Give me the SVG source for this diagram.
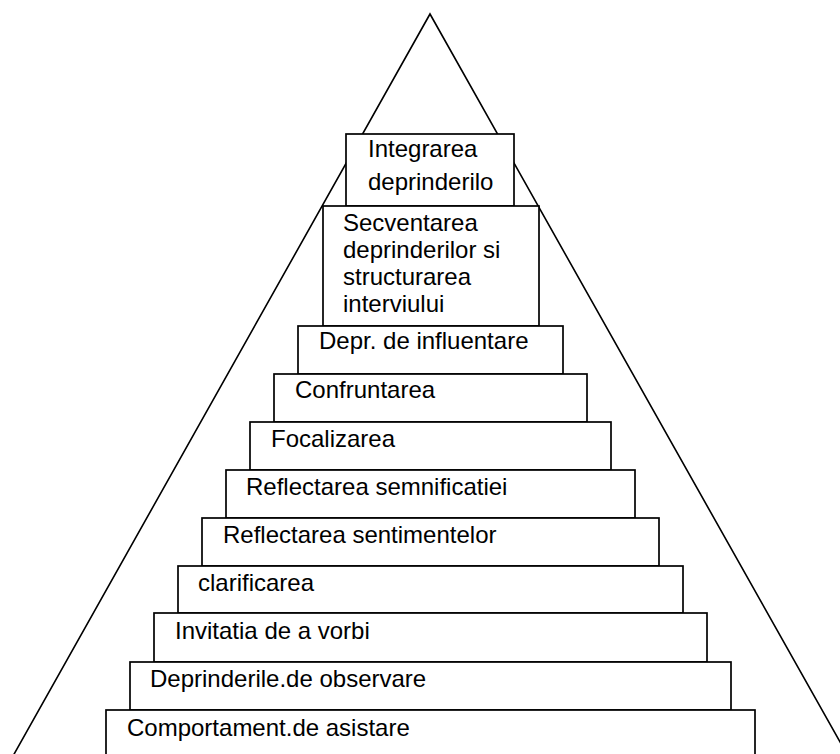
<svg xmlns="http://www.w3.org/2000/svg" width="840" height="754" viewBox="0 0 840 754">
<style>
.b{fill:#fff;stroke:#000;stroke-width:1.7}
.t{font-family:"Liberation Sans",Arial,sans-serif;font-size:24px;fill:#000}
.tri{fill:none;stroke:#000;stroke-width:1.6}
</style>
<rect width="840" height="754" fill="#fff"/>
<g id="pyramid"><polyline class="tri" points="13,756 430,14 848,756"/></g>
<g id="n1"><rect class="b" x="346" y="134" width="168" height="72"/><text class="t" x="368" y="157">Integrarea</text><text class="t" x="368" y="190">deprinderilo</text></g>
<g id="n2"><rect class="b" x="323" y="206" width="216" height="120"/><text class="t" x="343" y="231">Secventarea</text><text class="t" x="343" y="258">deprinderilor si</text><text class="t" x="343" y="285">structurarea</text><text class="t" x="343" y="312">interviului</text></g>
<g id="n3"><rect class="b" x="298" y="326" width="265" height="48"/><text class="t" x="319" y="349">Depr. de influentare</text></g>
<g id="n4"><rect class="b" x="274" y="374" width="313" height="48"/><text class="t" x="295" y="398">Confruntarea</text></g>
<g id="n5"><rect class="b" x="250" y="422" width="361" height="48"/><text class="t" x="271" y="447">Focalizarea</text></g>
<g id="n6"><rect class="b" x="226" y="470" width="409" height="48"/><text class="t" x="246" y="495">Reflectarea semnificatiei</text></g>
<g id="n7"><rect class="b" x="202" y="518" width="457" height="48"/><text class="t" x="223" y="543">Reflectarea sentimentelor</text></g>
<g id="n8"><rect class="b" x="178" y="566" width="505" height="47"/><text class="t" x="198" y="591">clarificarea</text></g>
<g id="n9"><rect class="b" x="154" y="613" width="553" height="49"/><text class="t" x="175" y="639">Invitatia de a vorbi</text></g>
<g id="n10"><rect class="b" x="130" y="662" width="601" height="48"/><text class="t" x="150" y="687">Deprinderile.de observare</text></g>
<g id="n11"><rect class="b" x="106" y="710" width="649" height="60"/><text class="t" x="127" y="736">Comportament.de asistare</text></g>
</svg>
